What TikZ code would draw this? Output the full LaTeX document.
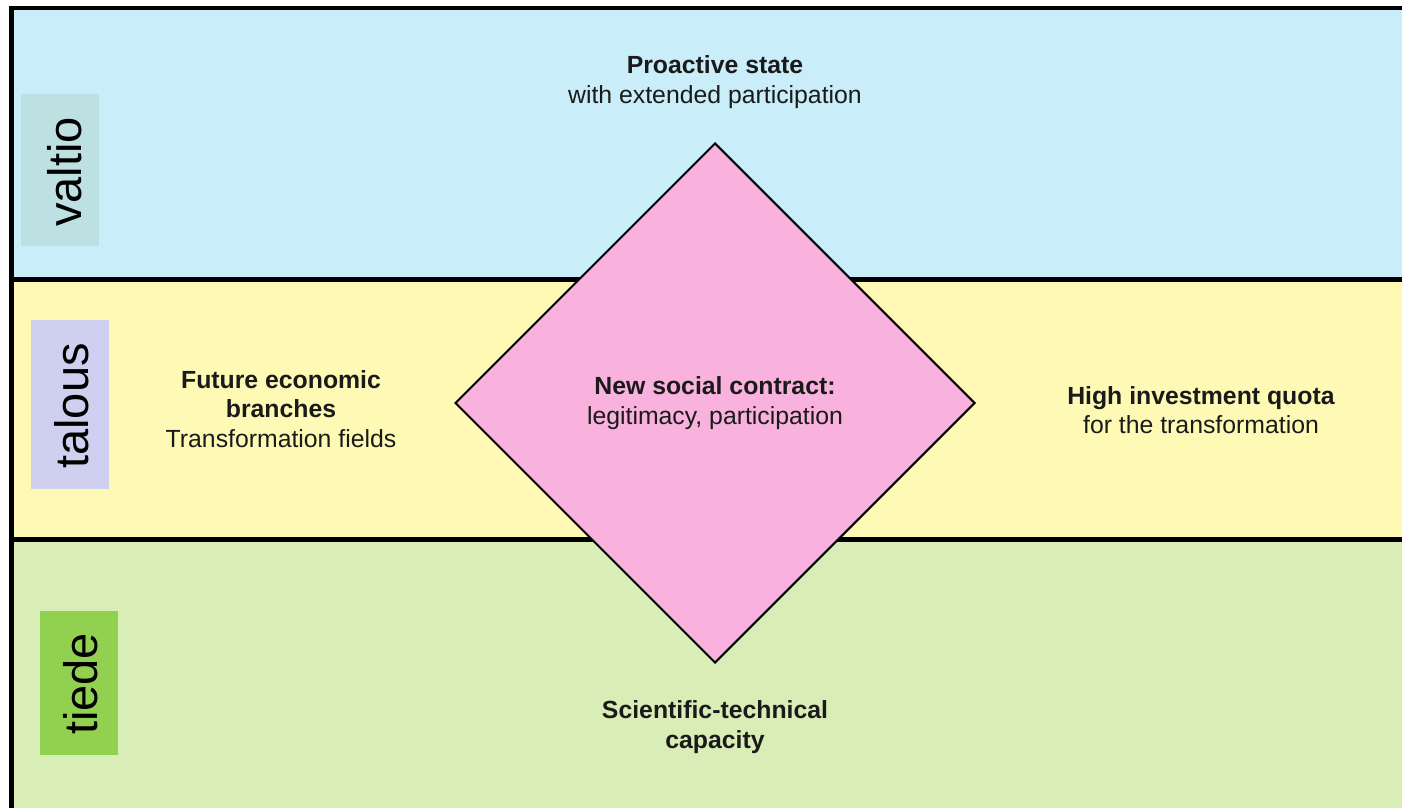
\documentclass[tikz,border=0pt]{standalone}
\usepackage{fontspec}
\setmainfont{Liberation Sans}
\usetikzlibrary{shapes.geometric}
\definecolor{bandblue}{HTML}{C9EEF9}
\definecolor{bandyellow}{HTML}{FEF9B4}
\definecolor{bandgreen}{HTML}{D9EDB6}
\definecolor{diapink}{HTML}{F8B2DD}
\definecolor{labblue}{HTML}{BDE1E3}
\definecolor{labviolet}{HTML}{CFD0EF}
\definecolor{labgreen}{HTML}{92D050}
\definecolor{inktext}{HTML}{1A1A1A}
\begin{document}
\begin{tikzpicture}[x=0.5pt,y=-0.5pt,
  sepline/.style={line width=2.5pt,black},
  lab/.style={rotate=90,font=\fontsize{23.5}{28}\selectfont,inner sep=0pt,text=black},
  txt/.style={align=center,font=\fontsize{12.4}{14.75}\selectfont,inner sep=0pt,text=inktext},
  contractbox/.style={diamond,draw=black,line width=1pt,fill=diapink,aspect=1,
    minimum width=260pt,minimum height=260pt,inner sep=0pt}]
\useasboundingbox (0,0) rectangle (1402,808);
\fill[white] (0,0) rectangle (1402,808);
% bands
\fill[bandblue] (11.5,8) rectangle (1402,279);
\fill[bandyellow] (11.5,279) rectangle (1402,539.5);
\fill[bandgreen] (11.5,539.5) rectangle (1402,808);
% separators and frame
\draw[sepline] (11.5,279) -- (1402,279);
\draw[sepline] (11.5,539.5) -- (1402,539.5);
\draw[line width=2pt,black] (9,8) -- (1402,8);
\draw[line width=2.5pt,black] (11.5,6) -- (11.5,808);
% label boxes
\fill[labblue] (21,94) rectangle (99,246);
\fill[labviolet] (31,320) rectangle (109,489);
\fill[labgreen] (40,611) rectangle (118,755);
\node[lab] (valtio) at (65,172) {valtio};
\node[lab] (talous) at (71.5,406) {talous};
\node[lab] (tiede) at (80.5,684) {tiede};
% central diamond
\node[contractbox,txt] (contract) at (715,403) {\textbf{New social contract:}\\legitimacy, participation};
% texts
\node[txt] (state) at (715,82) {\textbf{Proactive state}\\with extended participation};
\node[txt] (branches) at (281,409) {\textbf{Future economic}\\\textbf{branches}\\Transformation fields};
\node[txt] (quota) at (1201,410) {\textbf{High investment quota}\\for the transformation};
\node[txt] (science) at (715,727) {\textbf{Scientific-technical}\\\textbf{capacity}};
\end{tikzpicture}
\end{document}
